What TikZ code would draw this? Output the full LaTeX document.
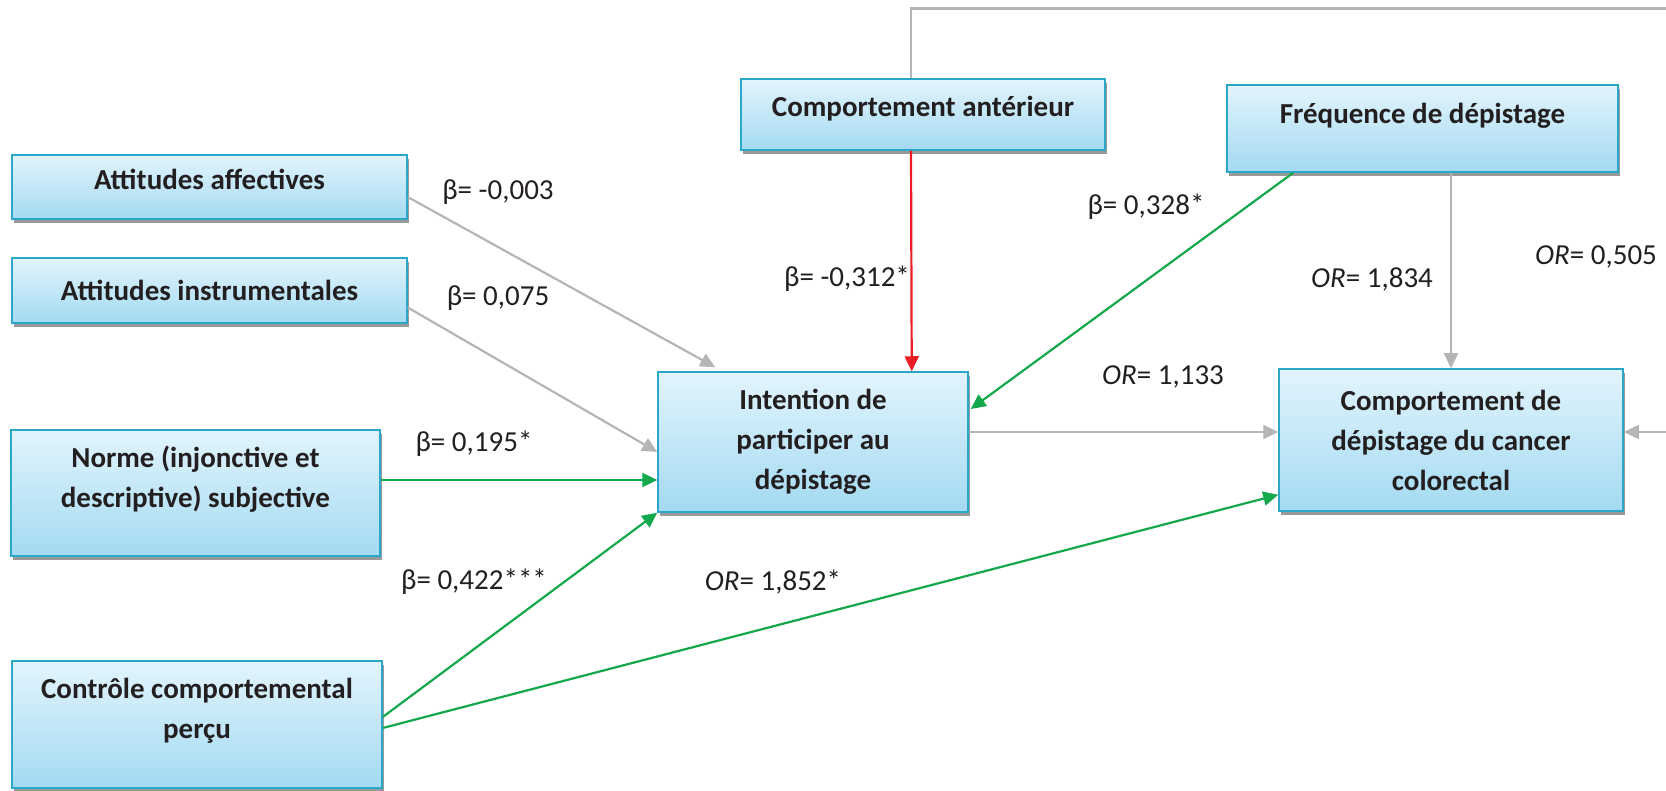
\documentclass[tikz,border=0pt]{standalone}
\usepackage{fontspec}
\setmainfont{Carlito}
\usetikzlibrary{arrows.meta,shadows}
\definecolor{boxtop}{HTML}{E2F4FC}
\definecolor{boxbot}{HTML}{A3DAF2}
\definecolor{boxline}{HTML}{2AA7C9}
\definecolor{lien}{HTML}{B5B5B8}
\definecolor{vert}{HTML}{13A84B}
\definecolor{rouge}{HTML}{EC1C24}
\definecolor{texte}{HTML}{231F20}

\begin{document}
\begin{tikzpicture}[x=1pt, y=-1pt]
\tikzstyle{every node} = [text=texte]
\tikzstyle{bloc} = [draw=boxline, line width=1.5pt, top color=boxtop, bottom color=boxbot,
  drop shadow={shadow xshift=1.5pt, shadow yshift=-4pt, fill=black!40, opacity=1},
  align=center, inner sep=0pt, font=\bfseries\fontsize{29}{40}\selectfont]
\tikzstyle{coef} = [inner sep=0pt, font=\fontsize{29}{35}\selectfont]
\tikzstyle{fleche} = [line width=2.2pt, -{Triangle[length=15pt,width=14pt]}]
\useasboundingbox (0,0) rectangle (1666,791);

% blocs
\node[bloc, minimum width=395pt, minimum height=64pt, text depth=15pt] (aff) at (209.5,187) {Attitudes affectives};
\node[bloc, minimum width=395pt, minimum height=65pt] (ins) at (209.5,290.5) {Attitudes instrumentales};
\node[bloc, minimum width=369pt, minimum height=126pt, text depth=33pt] (norme) at (195.5,493) {Norme (injonctive et\\descriptive) subjective};
\node[bloc, minimum width=370pt, minimum height=127pt, text depth=33pt] (ctrl) at (197,724.5) {Contrôle comportemental\\perçu};
\node[bloc, minimum width=364pt, minimum height=71pt, text depth=17pt] (ant) at (923,114.5) {Comportement antérieur};
\node[bloc, minimum width=391pt, minimum height=87pt, text depth=30pt] (freq) at (1422.5,128.5) {Fréquence de dépistage};
\node[bloc, minimum width=310pt, minimum height=140pt] (int) at (813,442) {Intention de\\participer au\\dépistage};
\node[bloc, minimum width=344pt, minimum height=142pt] (comp) at (1451,440) {Comportement de\\dépistage du cancer\\colorectal};

% liens
\coordinate (haut) at (1666,8.5);
\coordinate (droite) at (1666,432);
\draw[lien, line width=2.2pt] ([xshift=-12pt]ant.north) |- (haut);
\draw[fleche, lien] ([yshift=-10pt]aff.east) -- ([xshift=58pt, yshift=4pt]int.north west);
\draw[fleche, lien] ([yshift=-17pt]ins.east) -- ([yshift=-10pt]int.west);
\draw[fleche, vert] ([yshift=13pt]norme.east) -- ([yshift=-38pt]int.west);
\draw[fleche, vert] ([yshift=7.5pt]ctrl.east) -- (int.south west);
\draw[fleche, vert] ([yshift=-3.5pt]ctrl.east) -- ([yshift=17pt]comp.south west);
\draw[fleche, rouge] ([xshift=-12pt]ant.south) -- ([xshift=-57pt]int.north east);
\draw[fleche, vert] ([xshift=67pt]freq.south west) -- ([xshift=2pt, yshift=33pt]int.east);
\draw[fleche, lien] (comp.north |- freq.south) -- (comp.north);
\draw[fleche, lien] ([yshift=10pt]int.east) -- ([yshift=8pt]comp.west);
\draw[fleche, lien] (droite) -- ([yshift=8pt]comp.east);

% coefficients
\foreach \x/\y/\txt [count=\i] in {498/192/{β= -0,003}, 498/298/{β= 0,075}, 474/444/{β= 0,195*},
  474/582/{β= 0,422***}, 773/582/{{\itshape OR}= 1,852*}, 847/279/{β= -0,312*},
  1146/207/{β= 0,328*}, 1372/279/{{\itshape OR}= 1,834}, 1163/377/{{\itshape OR}= 1,133},
  1596/257/{{\itshape OR}= 0,505}}
\node[coef] (coef\i) at (\x,\y) {\txt};
\end{tikzpicture}
\end{document}
